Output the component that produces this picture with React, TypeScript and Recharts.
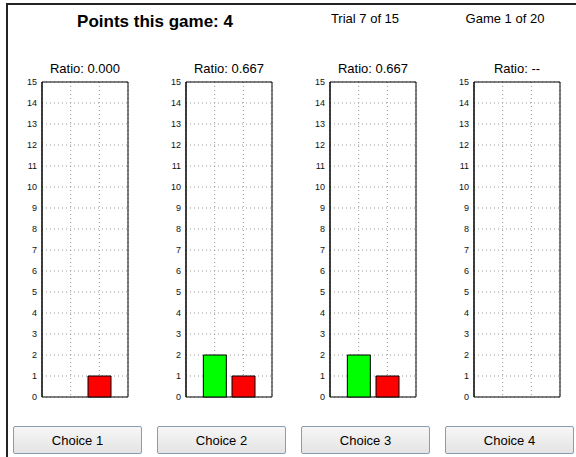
import React from "react"
import { BarChart, Bar, XAxis, YAxis, CartesianGrid, Cell, ReferenceArea } from "recharts"

const choices = ["Choice 1", "Choice 2", "Choice 3", "Choice 4"]
const ratios = ["0.000", "0.667", "0.667", "--"]
const greenCounts = [0, 2, 2, 0]
const redCounts = [1, 1, 1, 0]
const barPositions = [1, 2]
const barColors = ["#00ff00", "#ff0000"]
const yTicks = [0, 1, 2, 3, 4, 5, 6, 7, 8, 9, 10, 11, 12, 13, 14, 15]
const pointsText = "Points this game: 4"
const trialText = "Trial 7 of 15"
const gameText = "Game 1 of 20"

const font = "'Liberation Sans', Arial, sans-serif"

const Panel = ({ index }: { index: number }): React.ReactElement => {
  const data = barPositions.map((pos, i) => ({
    pos,
    count: i === 0 ? greenCounts[index] : redCounts[index],
  }))
  return (
    <BarChart
      width={122}
      height={329}
      data={data}
      margin={{ top: 8, right: 6, left: 0, bottom: 6 }}
    >
      <CartesianGrid stroke="#999" strokeDasharray="1 3" />
      <XAxis
        type="number"
        dataKey="pos"
        domain={[0, 3]}
        ticks={[1, 2]}
        height={0}
        mirror
        tickSize={4}
        tickFormatter={() => ""}
        axisLine={{ stroke: "#000" }}
        tickLine={{ stroke: "#000" }}
      />
      <YAxis
        type="number"
        domain={[0, 15]}
        ticks={yTicks}
        interval={0}
        width={30}
        tickSize={3}
        tickMargin={2}
        tickLine={false}
        axisLine={{ stroke: "#000" }}
        tick={{ fontSize: 9, fill: "#111", fontFamily: font }}
      />
      <Bar dataKey="count" barSize={23} stroke="#000" strokeWidth={1} isAnimationActive={false}>
        {data.map((_, i) => (
          <Cell key={i} fill={barColors[i]} />
        ))}
      </Bar>
      <ReferenceArea x1={0} x2={3} y1={0} y2={15} fill="none" stroke="#000" strokeWidth={1} />
    </BarChart>
  )
}

const App = (): React.ReactElement => {
  return (
    <div
      style={{
        position: "absolute",
        left: 0,
        top: 0,
        width: 576,
        height: 457,
        background: "#fff",
        fontFamily: font,
        overflow: "hidden",
      }}
    >
      <div
        style={{
          position: "absolute",
          left: 6,
          top: 3,
          width: 580,
          height: 470,
          borderLeft: "2px solid #222",
          borderTop: "2px solid #222",
        }}
      />
      <div style={{ position: "absolute", left: 35, top: 13, width: 240, textAlign: "center", fontSize: 17, fontWeight: "bold", lineHeight: "17px" }}>
        {pointsText}
      </div>
      <div style={{ position: "absolute", left: 305, top: 12, width: 120, textAlign: "center", fontSize: 13, lineHeight: "13px" }}>
        {trialText}
      </div>
      <div style={{ position: "absolute", left: 445, top: 12, width: 120, textAlign: "center", fontSize: 13, lineHeight: "13px" }}>
        {gameText}
      </div>
      {choices.map((c, i) => (
        <React.Fragment key={c}>
          <div
            style={{
              position: "absolute",
              left: 42 + i * 144 - 20,
              top: 62,
              width: 126,
              textAlign: "center",
              fontSize: 13,
              lineHeight: "13px",
            }}
          >
            {"Ratio: " + ratios[i]}
          </div>
          <div style={{ position: "absolute", left: 12 + i * 144, top: 74 }}>
            <Panel index={i} />
          </div>
          <div
            style={{
              position: "absolute",
              left: 13 + i * 144,
              top: 426,
              width: 129,
              height: 28,
              boxSizing: "border-box",
              border: "1px solid #8a9bb0",
              borderRadius: 2,
              background: "linear-gradient(#f6f6f6, #e4e4e4)",
              fontSize: 13,
              lineHeight: "27px",
              textAlign: "center",
              color: "#000",
            }}
          >
            {c}
          </div>
        </React.Fragment>
      ))}
    </div>
  )
}

export default App
